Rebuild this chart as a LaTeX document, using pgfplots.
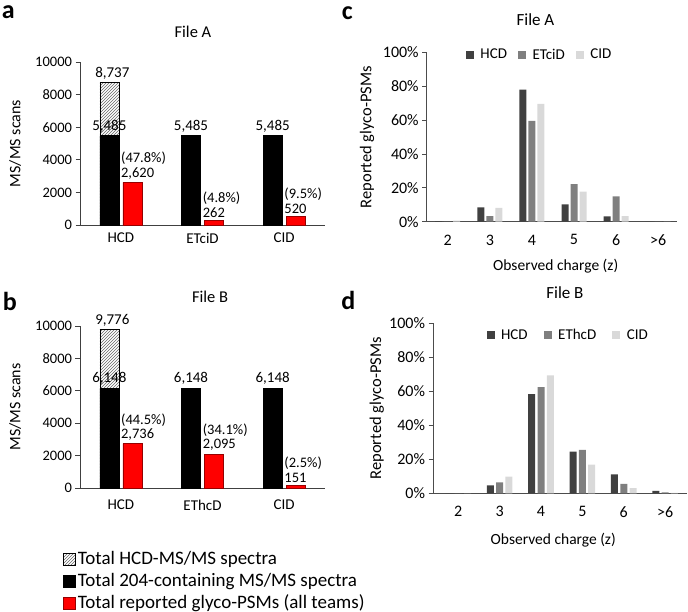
\documentclass[border=0pt]{standalone}
\usepackage{pgfplots}
\pgfplotsset{compat=1.18}
\usepackage{fontspec}
\setmainfont{Carlito}
\usetikzlibrary{patterns}
\definecolor{hcd}{HTML}{404040}
\definecolor{etd}{HTML}{7F7F7F}
\definecolor{cid}{HTML}{D9D9D9}
\definecolor{redbar}{RGB}{255,0,0}
\definecolor{redline}{RGB}{150,0,0}
\newcommand{\fs}[1]{\fontsize{#1}{#1}\selectfont}
\tikzset{letter/.style={font=\bfseries\fs{26}, anchor=base west, inner sep=0pt}}

\pgfplotsset{
  barAB/.style={
    scale only axis, width=245pt,
    xmin=0, xmax=3, ymin=0, ymax=10000,
    axis lines*=left,
    axis line style={black!75, line width=0.8pt},
    xtick={0.5,1.5,2.5},
    major x tick style={draw=none},
    ytick={0,2000,4000,6000,8000,10000},
    yticklabels={0,2000,4000,6000,8000,10000},
    scaled y ticks=false,
    tick align=outside,
    major tick length=4.5pt,
    y tick style={black!75, line width=0.8pt},
    yticklabel style={font=\fs{14.5}},
    xticklabel style={font=\fs{15}},
    ylabel={MS/MS scans},
    ylabel style={font=\fs{16}, at={(axis description cs:-0.265,0.5)}, anchor=center, rotate=0},
    title style={font=\fs{16.5}, anchor=center},
    clip=false,
  },
  hatchbar/.style={ybar, bar width=19pt, bar shift=-11.5pt, pattern=north east lines, pattern color=black!60, draw=black, line width=0.6pt,
    nodes near coords, point meta=explicit symbolic,
    every node near coord/.style={font=\fs{15}, anchor=south, xshift=-8.5pt, yshift=0pt},
    legend image code/.code={\draw[##1] (0pt,-6pt) rectangle (12pt,6pt);}},
  blackbar/.style={ybar, bar width=19pt, bar shift=-11.5pt, fill=black, draw=black,
    nodes near coords, point meta=explicit symbolic,
    every node near coord/.style={font=\fs{15}, anchor=south, xshift=-11.5pt, yshift=0pt},
    legend image code/.code={\draw[##1] (0pt,-6pt) rectangle (12pt,6pt);}},
  redbarst/.style={ybar, bar width=19pt, bar shift=11.5pt, fill=redbar, draw=redline, line width=0.6pt,
    nodes near coords, point meta=explicit symbolic,
    every node near coord/.style={font=\fontsize{14.5}{14.5}\selectfont, align=left, anchor=south west, inner xsep=0pt, inner ysep=2pt, xshift=0pt, yshift=1pt},
    legend image code/.code={\draw[##1] (0pt,-6pt) rectangle (12pt,6pt);}},
  barCD/.style={
    scale only axis,
    ymin=0, ymax=100,
    axis lines*=left,
    axis line style={black!70, line width=0.8pt},
    xtick={0,1,2,3,4,5},
    xticklabels={2,3,4,5,6,>6},
    major x tick style={draw=none},
    ytick={0,20,40,60,80,100},
    yticklabels={0\%,20\%,40\%,60\%,80\%,100\%},
    tick align=outside,
    major tick length=4.5pt,
    y tick style={black!70, line width=0.8pt},
    yticklabel style={font=\fs{16}},
    xticklabel style={font=\fs{16}, yshift=-5pt},
    xlabel={Observed charge (z)},
    xlabel style={font=\fs{15.5}, anchor=center},
    ylabel={Reported glyco-PSMs},
    ylabel style={font=\fs{16.5}, anchor=center},
    title style={font=\fs{17}, anchor=center},
    legend columns=3,
    legend style={draw=none, fill=none, font=\fs{15}, anchor=center, inner sep=0pt,
      /tikz/every odd column/.append style={column sep=4.5pt},
      /tikz/every even column/.append style={column sep=9pt}},
    clip=false,
  },
  sq/.style={legend image code/.code={\fill[##1] (0pt,-4pt) rectangle (8pt,4pt);}},
}

\begin{document}
\begin{tikzpicture}
\useasboundingbox (0,0) rectangle (688pt,-612pt);

% ---------------- Panel a ----------------
\begin{axis}[barAB, height=163pt, at={(80pt,-225pt)}, anchor=south west,
  xticklabels={HCD,ETciD,CID},
  title={File A},
  title style={at={(axis description cs:0.461,1.15)}},
]
\addplot[hatchbar] table[meta=l] {
x y l
0.5 8737 8,737
};
\addplot[blackbar] table[meta=l] {
x y l
0.5 5485 5,485
1.5 5485 5,485
2.5 5485 5,485
};
\addplot[redbarst] table[meta=l] {
x y l
0.5 2620 {(47.8\%)\\2,620}
1.5 262 {(4.8\%)\\262}
2.5 520 {(9.5\%)\\520}
};
\node[letter] at (rel axis cs:-0.320,1.264) {a};
\end{axis}

% ---------------- Panel b ----------------
\begin{axis}[barAB, height=162pt, at={(80pt,-488pt)}, anchor=south west,
  xticklabels={HCD,EThcD,CID},
  xticklabel style={yshift=-4pt},
  title={File B},
  title style={at={(axis description cs:0.531,1.145)}},
  legend style={at={(axis description cs:-0.069,-0.37)}, anchor=north west, draw=none, fill=none,
    font=\fs{19}, legend cell align=left, inner sep=0pt, row sep=0pt,
    nodes={inner ysep=2pt, text height=14pt, text depth=4pt}},
]
\addplot[hatchbar] table[meta=l] {
x y l
0.5 9776 9,776
};
\addlegendentry{Total HCD-MS/MS spectra}
\addplot[blackbar] table[meta=l] {
x y l
0.5 6148 6,148
1.5 6148 6,148
2.5 6148 6,148
};
\addlegendentry{Total 204-containing MS/MS spectra}
\addplot[redbarst] table[meta=l] {
x y l
0.5 2736 {(44.5\%)\\2,736}
1.5 2095 {(34.1\%)\\2,095}
2.5 151 {(2.5\%)\\151}
};
\addlegendentry{Total reported glyco-PSMs (all teams)}
\node[letter] at (rel axis cs:-0.316,1.094) {b};
\end{axis}

% ---------------- Panel c ----------------
\begin{axis}[barCD, width=250pt, height=169.3pt, at={(426.7pt,-221.7pt)}, anchor=south west,
  xmin=-0.5, xmax=5.44,
  title={File A},
  title style={at={(axis description cs:0.435,1.158)}},
  xlabel style={at={(axis description cs:0.516,-0.26)}},
  ylabel style={at={(axis description cs:-0.239,0.5)}},
  legend style={at={(axis description cs:0.452,0.986)}},
]
\addplot[ybar, bar width=7pt, bar shift=-9pt, fill=hcd, draw=none, sq] coordinates {(0,0.3) (1,8.5) (2,78) (3,10.3) (4,3.1) (5,0)};
\addlegendentry{HCD}
\addplot[ybar, bar width=7pt, bar shift=0pt, fill=etd, draw=none, sq] coordinates {(0,0) (1,3.3) (2,59.5) (3,22.2) (4,15.0) (5,0)};
\addlegendentry{ETciD}
\addplot[ybar, bar width=7pt, bar shift=9pt, fill=cid, draw=none, sq] coordinates {(0,0.6) (1,8.1) (2,69.6) (3,17.7) (4,3.3) (5,0)};
\addlegendentry{CID}
\node[letter] at (rel axis cs:-0.340,1.197) {c};
\end{axis}

% ---------------- Panel d ----------------
\begin{axis}[barCD, width=253.7pt, height=170pt, at={(433pt,-493.3pt)}, anchor=south west,
  xmin=-0.61, xmax=5.52,
  title={File B},
  title style={at={(axis description cs:0.52,1.143)}},
  xlabel style={at={(axis description cs:0.474,-0.275)}},
  ylabel style={at={(axis description cs:-0.221,0.5)}},
  legend style={at={(axis description cs:0.533,0.931)}},
  legend style={/tikz/every even column/.append style={column sep=14pt}},
]
\addplot[ybar, bar width=7pt, bar shift=-9.3pt, fill=hcd, draw=none, sq] coordinates {(0,0) (1,4.7) (2,58.4) (3,24.5) (4,11.2) (5,1.4)};
\addlegendentry{HCD}
\addplot[ybar, bar width=7pt, bar shift=0pt, fill=etd, draw=none, sq] coordinates {(0,0) (1,6.5) (2,62.4) (3,25.5) (4,5.5) (5,0.6)};
\addlegendentry{EThcD}
\addplot[ybar, bar width=7pt, bar shift=9.3pt, fill=cid, draw=none, sq] coordinates {(0,0) (1,9.8) (2,69.4) (3,16.9) (4,3.1) (5,0.3)};
\addlegendentry{CID}
\node[letter] at (rel axis cs:-0.362,1.084) {d};
\end{axis}
\end{tikzpicture}
\end{document}
